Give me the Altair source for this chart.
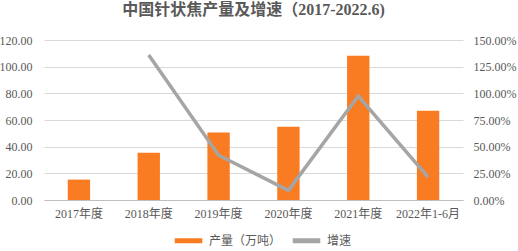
import altair as alt
import pandas as pd

years = ["2017年度", "2018年度", "2019年度", "2020年度", "2021年度", "2022年1-6月"]
output = [15.3, 35.4, 50.6, 55.0, 108.2, 67.0]
growth = [None, 1.36, 0.42, 0.09, 0.975, 0.215]

bar_name = "产量（万吨）"
line_name = "增速"

df = pd.DataFrame({"year": years, "output": output, "growth": growth})
df["s1"] = bar_name
df["s2"] = line_name

serif = "Liberation Serif, Noto Sans CJK SC"
sans = "Noto Sans CJK SC"

color = alt.Color(
    "s1:N",
    scale=alt.Scale(domain=[bar_name, line_name], range=["#F97B22", "#A5A5A5"]),
    legend=alt.Legend(
        title=None, orient="none", direction="horizontal",
        legendX=128, legendY=184, padding=0,
        symbolType="stroke", symbolStrokeWidth=5, symbolSize=760,
        labelFont=sans, labelFontSize=12, labelColor="#595959", labelLimit=200,
        labelOffset=4, columnPadding=0,
    ),
)

x = alt.X(
    "year:N", sort=years, title=None,
    scale=alt.Scale(paddingInner=0.68, paddingOuter=0.34),
    axis=alt.Axis(labelAngle=0, labelFont=serif, labelFontSize=12, labelColor="#595959",
                  ticks=False, domainColor="#BFBFBF", labelPadding=8),
)

bars = alt.Chart(df).mark_bar().encode(
    x=x,
    y=alt.Y("output:Q", title=None,
            scale=alt.Scale(domain=[0, 120]),
            axis=alt.Axis(values=[0, 20, 40, 60, 80, 100, 120], format=".2f",
                          labelFont=serif, labelFontSize=12, labelColor="#595959",
                          ticks=False, domain=False, gridColor="#D9D9D9",
                          labelPadding=12)),
    color=color,
)

line = alt.Chart(df).transform_filter("datum.growth != null").mark_line(strokeWidth=3.5).encode(
    x=alt.X("year:N", sort=years),
    y=alt.Y("growth:Q", title=None,
            scale=alt.Scale(domain=[0, 1.5]),
            axis=alt.Axis(orient="right", values=[0, 0.25, 0.5, 0.75, 1.0, 1.25, 1.5], format=".2%",
                          labelFont=serif, labelFontSize=12, labelColor="#595959",
                          ticks=False, domain=False, grid=False, labelPadding=10)),
    color=alt.Color("s2:N"),
)

chart = alt.layer(bars, line).resolve_scale(y="independent").properties(
    width=419, height=160,
    autosize=alt.AutoSizeParams(type="none"),
    padding={"left": 44, "top": 40, "right": 55, "bottom": 51},
    title=alt.Title("中国针状焦产量及增速（2017-2022.6)", font=serif, fontSize=16,
                    fontWeight="bold", color="#595959", offset=16),
).configure_view(stroke=None)

chart.save("out.html", embed_options={"renderer": "svg", "actions": False})
